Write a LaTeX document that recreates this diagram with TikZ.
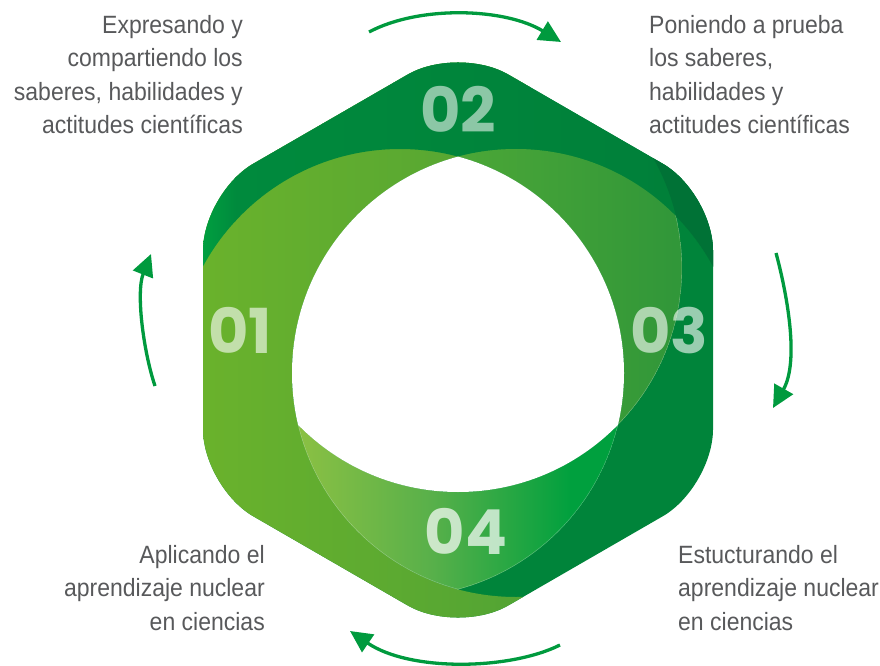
\documentclass[tikz,border=0pt]{standalone}
\usepackage{fontspec}
\setmainfont{Liberation Sans}[FakeStretch = 0.92]
\newfontfamily\numfont{Poppins}
\usetikzlibrary{arrows.meta}

\begin{document}
\begin{tikzpicture}[x = 1pt, y = -1pt]
        \useasboundingbox (0, 0) rectangle (880, 666);
        \definecolor{mybasegreen}{RGB}{0,132,58}
        \definecolor{mytopgreenleft}{RGB}{0,138,61}
        \definecolor{mytopgreenright}{RGB}{0,127,57}
        \definecolor{mycornergreen}{RGB}{0,114,54}
        \definecolor{mysliver}{RGB}{0,160,64}
        \definecolor{myleftgreenA}{RGB}{106,178,44}
        \definecolor{myleftgreenB}{RGB}{82,164,52}
        \definecolor{myrightgreenA}{RGB}{76,167,55}
        \definecolor{myrightgreenB}{RGB}{46,149,57}
        \definecolor{mybottomgreenA}{RGB}{141,193,67}
        \definecolor{mybottomgreenB}{RGB}{88,176,74}
        \definecolor{mybottomgreenC}{RGB}{0,160,62}
        \definecolor{myarrowgreen}{RGB}{0,154,62}
        \definecolor{mygray}{RGB}{88,89,91}

        \coordinate (cA) at (516, 373);
        \coordinate (cB) at (400, 373);
        \coordinate (cC) at (458, 268);

        \begin{scope}[even odd rule]
        \clip[rounded corners = 58pt] (458, 45.5) -- (713, 192.75) -- (713, 487.25) -- (458, 634.5) -- (203, 487.25) -- (203, 192.75) -- cycle;
        \fill[mybasegreen] (190, 30) rectangle (730, 650);

        \begin{scope}
                \clip (0, 0) rectangle (880, 666) (cA) circle (224);
                \shade[left color = myleftgreenA, right color = myleftgreenB] (203, 30) rectangle (530, 650);
                \begin{scope}
                        \clip (0, 0) rectangle (880, 666) (cB) circle (224);
                        \shade[left color = mytopgreenleft, right color = mytopgreenright] (235, 30) rectangle (713, 400);
                        \shade[left color = mysliver, right color = mytopgreenleft] (201, 30) rectangle (236, 400);
                        \clip (0, 0) rectangle (880, 666) (cC) circle (224);
                        \fill[mycornergreen] (600, 30) rectangle (730, 400);
                \end{scope}
        \end{scope}

        \begin{scope}
                \clip (cA) circle (224);
                \clip (cC) circle (224);
                \clip (0, 0) rectangle (880, 666) (cB) circle (224);
                \shade[left color = myrightgreenA, right color = myrightgreenB] (455, 130) rectangle (700, 440);
                \draw[white, opacity = 0.35, line width = 0.8pt] (cC) circle (224);
        \end{scope}

        \begin{scope}
                \clip (cA) circle (224);
                \clip (cB) circle (224);
                \clip (0, 0) rectangle (880, 666) (cC) circle (224);
                \shade[left color = mybottomgreenA, right color = mybottomgreenC, middle color = mybottomgreenB] (292, 420) rectangle (572, 610);
                \fill[mybottomgreenC] (570, 420) rectangle (630, 610);
                \draw[white, opacity = 0.35, line width = 0.8pt] (cA) circle (224);
                \draw[white, opacity = 0.35, line width = 0.8pt] (cB) circle (224);
        \end{scope}

        \begin{scope}
                \clip (cA) circle (224);
                \clip (cB) circle (224);
                \fill[white] (cC) circle (224);
        \end{scope}
        \end{scope}

        \node[font = \numfont\bfseries\fontsize{62}{62}\selectfont, text = white, text opacity = 0.6, inner sep = 0pt] (n01) at (240, 330) {01};
        \node[font = \numfont\bfseries\fontsize{62}{62}\selectfont, text = white, text opacity = 0.55, inner sep = 0pt] (n02) at (458, 109) {02};
        \node[font = \numfont\bfseries\fontsize{62}{62}\selectfont, text = white, text opacity = 0.6, inner sep = 0pt] (n03) at (669, 331) {03};
        \node[font = \numfont\bfseries\fontsize{62}{62}\selectfont, text = white, text opacity = 0.7, inner sep = 0pt] (n04) at (466, 531) {04};

        \node[anchor = north east, align = right, inner sep = 0pt, text = mygray, font = \fontsize{25}{33.5}\selectfont] (t1) at (243, 15) {Expresando y\\compartiendo los\\saberes, habilidades y\\actitudes científicas};
        \node[anchor = north west, align = left, inner sep = 0pt, text = mygray, font = \fontsize{25}{33.5}\selectfont] (t2) at (649, 15) {Poniendo a prueba\\los saberes,\\habilidades y\\actitudes científicas};
        \node[anchor = north east, align = right, inner sep = 0pt, text = mygray, font = \fontsize{25}{33.5}\selectfont] (t4) at (265, 545) {Aplicando el\\aprendizaje nuclear\\en ciencias};
        \node[anchor = north west, align = left, inner sep = 0pt, text = mygray, font = \fontsize{25}{33.5}\selectfont] (t3) at (678, 545) {Estucturando el\\aprendizaje nuclear\\en ciencias};

        \coordinate (a1s) at (369, 32);
        \coordinate (a1e) at (561, 42);
        \coordinate (a2s) at (776, 253);
        \coordinate (a2e) at (773, 408);
        \coordinate (a3s) at (560, 645);
        \coordinate (a3e) at (350, 631);
        \coordinate (a4s) at (155, 386);
        \coordinate (a4e) at (151, 254);

        \path[draw, myarrowgreen, -{Triangle[length = 22pt, width = 21pt]}, line width = 3.3pt] (a1s) .. controls (420, 5) and (505, 8) .. (a1e);
        \path[draw, myarrowgreen, -{Triangle[length = 22pt, width = 21pt]}, line width = 3.3pt] (a2s) .. controls (786, 290) and (800, 360) .. (a2e);
        \path[draw, myarrowgreen, -{Triangle[length = 22pt, width = 21pt]}, line width = 3.3pt] (a3s) .. controls (510, 670) and (410, 672) .. (a3e);
        \path[draw, myarrowgreen, -{Triangle[length = 22pt, width = 21pt]}, line width = 3.3pt] (a4s) .. controls (143, 350) and (136, 292) .. (a4e);
\end{tikzpicture}
\end{document}
